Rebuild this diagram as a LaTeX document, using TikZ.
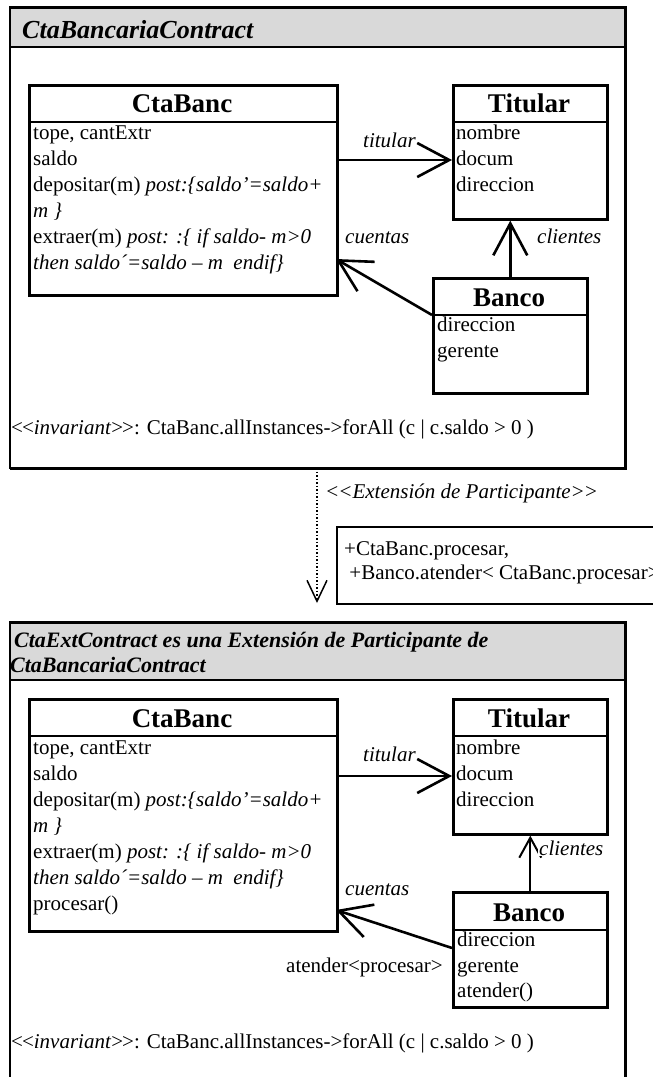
\documentclass[tikz,border=0pt]{standalone}
\usepackage{fontspec}
\setmainfont{Liberation Serif}
\usetikzlibrary{arrows.meta}
\definecolor{hdr}{RGB}{217,217,217}
\newcommand\ltlt{<\kern-1pt<}
\newcommand\gtgt{>\kern-1pt>}
\tikzset{
  cls/.style={draw, line width=2.6pt, rectangle, inner sep=0pt, anchor=north west},
  sep/.style={line width=2.4pt},
  txt/.style={anchor=base west, inner sep=0pt, font=\fontsize{21}{26}\selectfont},
  ttl/.style={anchor=base, inner sep=0pt, font=\fontsize{27}{32}\selectfont\bfseries},
  lbl/.style={anchor=base west, inner sep=0pt, font=\fontsize{21}{26}\selectfont\itshape},
  ftitle/.style={anchor=base west, inner sep=0pt, font=\bfseries\itshape},
  assoc/.style={line width=2.6pt, -{Straight Barb[length=32pt,width=34pt]}},
  small assoc/.style={line width=2pt, -{Straight Barb[length=20pt,width=22pt]}},
  depend/.style={line width=1.5pt, dotted, -{Straight Barb[length=21pt,width=20pt]}},
  thin frame/.style={line width=1.5pt},
  thick frame/.style={line width=3pt},
}
\begin{document}
\begin{tikzpicture}[x=1pt,y=-1pt]
\useasboundingbox (0,0) rectangle (653,1077);
\clip (0,0) rectangle (653,1077);
\fill[white] (0,0) rectangle (653,1077);

% ---------- Frame 1 ----------
\fill[hdr] (10,7) rectangle (625,47);
\draw[thin frame] (10,7) rectangle (625,468);
\draw[thick frame] (10,7) -- (625,7) -- (625,468) -- (10,468);
\draw[line width=2pt] (10,47) -- (625,47);
\node[ftitle, font=\fontsize{26}{30}\selectfont\bfseries\itshape] (f1title) at (22,38) {CtaBancariaContract};

% CtaBanc
\node[cls, minimum width=308pt, minimum height=210pt] (cb1) at (28,84) {};
\draw[sep] (28,122) -- (336,122);
\node[ttl] (cb1name) at (182,112) {CtaBanc};
\node[txt] (cb1a1) at (33,139) {tope, cantExtr};
\node[txt] (cb1a2) at (33,165) {saldo};
\node[txt] (cb1a3) at (33,191) {depositar(m) \textit{post:\{saldo’=saldo+}};
\node[txt] (cb1a4) at (33,217) {\textit{m \}}};
\node[txt] (cb1a5) at (33,243) {extraer(m) \textit{post: :\{ if saldo- m>0}};
\node[txt] (cb1a6) at (33,269) {\textit{then saldo´=saldo – m\ \ endif\}}};

% Titular
\node[cls, minimum width=154pt, minimum height=134pt] (ti1) at (452,84) {};
\draw[sep] (452,122) -- (606,122);
\node[ttl] (ti1name) at (529,112) {Titular};
\node[txt] (ti1a1) at (456,139) {nombre};
\node[txt] (ti1a2) at (456,165) {docum};
\node[txt] (ti1a3) at (456,191) {direccion};

% Banco
\node[cls, minimum width=154pt, minimum height=115pt] (bc1) at (432,277) {};
\draw[sep] (432,315) -- (586,315);
\node[ttl] (bc1name) at (509,306) {Banco};
\node[txt] (bc1a1) at (437,331) {direccion};
\node[txt] (bc1a2) at (437,357) {gerente};

% connectors
\coordinate (cb1tit) at (336,160);
\coordinate (ti1tit) at (452,160);
\draw[assoc] (cb1tit) -- (ti1tit);
\node[lbl] (l1tit) at (363,147) {titular};
\draw[assoc] (bc1.north) -- (bc1.north |- ti1.south);
\node[lbl] (l1cli) at (537,243) {clientes};
\coordinate (bc1cue) at (432,315);
\coordinate (cb1cue) at (336,259);
\draw[assoc] (bc1cue) -- (cb1cue);
\node[lbl] (l1cue) at (345,243) {cuentas};

\node[txt] (inv1) at (11,434) {\ltlt\textit{invariant}\gtgt: CtaBanc.allInstances->forAll (c | c.saldo > 0 )};

% ---------- Dependency ----------
\coordinate (dep1) at (317,468);
\coordinate (dep2) at (317,603);
\draw[depend] (dep1) -- (dep2);
\node[lbl] (ldep) at (325,498) {\ltlt Extensión de Participante\gtgt};
\node[draw, line width=2pt, anchor=north west, inner sep=0pt, minimum width=340pt, minimum height=77pt] (ext) at (336,526) {};
\node[txt] (ext1) at (344,555) {+CtaBanc.procesar,};
\node[txt] (ext2) at (344,579) {\ +Banco.atender< CtaBanc.procesar>};

% ---------- Frame 2 ----------
\fill[hdr] (10,622) rectangle (625,680);
\draw[thin frame] (10,622) rectangle (625,1100);
\draw[thick frame] (10,622) -- (625,622) -- (625,1100);
\draw[line width=1.5pt] (10,680) -- (625,680);
\node[ftitle, font=\fontsize{22}{26}\selectfont\bfseries\itshape] (f2title1) at (14,647) {CtaExtContract es una Extensión de Participante de};
\node[ftitle, font=\fontsize{22}{26}\selectfont\bfseries\itshape] (f2title2) at (10,672) {CtaBancariaContract};

% CtaBanc
\node[cls, minimum width=308pt, minimum height=232pt] (cb2) at (28,698) {};
\draw[sep] (28,736) -- (336,736);
\node[ttl] (cb2name) at (182,727) {CtaBanc};
\node[txt] (cb2a1) at (33,754) {tope, cantExtr};
\node[txt] (cb2a2) at (33,780) {saldo};
\node[txt] (cb2a3) at (33,806) {depositar(m) \textit{post:\{saldo’=saldo+}};
\node[txt] (cb2a4) at (33,832) {\textit{m \}}};
\node[txt] (cb2a5) at (33,858) {extraer(m) \textit{post: :\{ if saldo- m>0}};
\node[txt] (cb2a6) at (33,884) {\textit{then saldo´=saldo – m\ \ endif\}}};
\node[txt] (cb2a7) at (33,910) {procesar()};

% Titular
\node[cls, minimum width=154pt, minimum height=135pt] (ti2) at (452,698) {};
\draw[sep] (452,736) -- (606,736);
\node[ttl] (ti2name) at (529,727) {Titular};
\node[txt] (ti2a1) at (456,754) {nombre};
\node[txt] (ti2a2) at (456,780) {docum};
\node[txt] (ti2a3) at (456,806) {direccion};

% Banco
\node[cls, minimum width=154pt, minimum height=115pt] (bc2) at (452,891) {};
\draw[sep] (452,930) -- (606,930);
\node[ttl] (bc2name) at (529,921) {Banco};
\node[txt] (bc2a1) at (457,946) {direccion};
\node[txt] (bc2a2) at (457,972) {gerente};
\node[txt] (bc2a3) at (457,997) {atender()};

% connectors
\coordinate (cb2tit) at (336,776);
\coordinate (ti2tit) at (452,776);
\draw[assoc] (cb2tit) -- (ti2tit);
\node[lbl] (l2tit) at (363,761) {titular};
\draw[small assoc] (bc2.north) -- (bc2.north |- ti2.south);
\node[lbl, fill=white, inner sep=1pt] (l2cli) at (538,855) {clientes};
\coordinate (bc2cue) at (452,948);
\coordinate (cb2cue) at (336,910);
\draw[assoc] (bc2cue) -- (cb2cue);
\node[lbl] (l2cue) at (345,895) {cuentas};
\node[txt, anchor=base east] (l2ate) at (443,972) {atender<procesar>};

\node[txt] (inv2) at (11,1048) {\ltlt\textit{invariant}\gtgt: CtaBanc.allInstances->forAll (c | c.saldo > 0 )};
\end{tikzpicture}
\end{document}
